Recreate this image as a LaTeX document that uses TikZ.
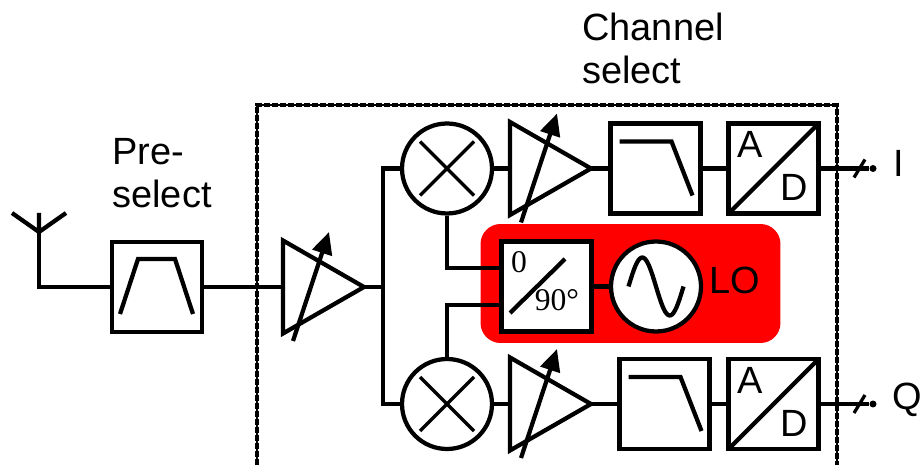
\documentclass[tikz,border=0pt]{standalone}
\usepackage{fontspec}
\setmainfont{Liberation Sans}
\newfontfamily\serifnum{Liberation Serif}
\usetikzlibrary{arrows.meta, positioning, shapes.geometric}

\tikzset{
	wire/.style={line width=0.085cm},
	block/.style={draw, wire, fill=white, rectangle, minimum size=1.8cm, inner sep=0pt},
	roundblock/.style={draw, wire, fill=white, circle, minimum size=1.8cm, inner sep=0pt},
	amp/.style={draw, wire, isosceles triangle, isosceles triangle stretches, minimum width=1.86cm, minimum height=1.62cm, inner sep=0pt, outer sep=0pt, anchor=west},
	caption/.style={font=\fontsize{21.6}{24.4}\selectfont, align=left, inner sep=0pt},
	bandpass/.pic={\draw [wire] (-37,27) -- (-19,-28) -- (18,-28) -- (36,27);},
	lowpass/.pic={\draw [wire] (-36,-27) -- (16,-27) -- (37,27);},
	gainarrow/.pic={\draw [wire, -{Triangle[length=0.44cm,width=0.4cm]}] (-30,54) -- (6,-55);},
	mixcross/.pic={\draw [line width=0.065cm] (-27,-27) -- (27,27) (-27,27) -- (27,-27);},
	adconv/.pic={
		\draw [wire] (-45,45) -- (45,-45);
		\node (-a) [caption] at (-23,-24) {A};
		\node (-d) [caption] at (21,19) {D};
	},
	busmark/.pic={\draw [line width=0.065cm] (-6,9) -- (5,-9);}
}

\begin{document}
\begin{tikzpicture}[x=0.02cm,y=-0.02cm,>=Stealth,line join=miter]
	\useasboundingbox (0,0) rectangle (922,465);

	% LO background
	\node (lobg) [fill=red, rounded corners=0.4cm, minimum width=6cm, minimum height=2.38cm, inner sep=0pt] at (630.5,283.5) {};

	% screen around the channel path
	\draw [line width=0.04cm] (256.5,465) -- (256.5,105) -- (836.5,105) -- (836.5,465);
	\draw [line width=0.08cm, dash pattern=on 0.12cm off 0.04cm] (256.5,465) -- (256.5,105) -- (836.5,105) -- (836.5,465);

	% antenna and pre-select
	\coordinate (anttop) at (39,213);
	\coordinate (antfoot) at (39,232);
	\coordinate (antl) at (12,213);
	\coordinate (antr) at (66,213);
	\node (presel) [block] at (157,287) {};
	\pic at (presel) {bandpass};
	\node (preseltxt) [caption] at (162,173) {Pre-\\select};
	\node (chantxt) [caption] at (653,48.5) {Channel\\select};

	\draw [wire] (antl) -- (antfoot) -- (antr) (anttop) -- (antfoot);
	\draw [wire] (antfoot) |- (presel.west);

	% first gain stage
	\node (vgain) [amp] at (283,287) {};
	\pic at (323,287) {gainarrow};
	\coordinate (fork) at (383,287);
	\draw [wire] (presel.east) -- (vgain.west);
	\draw [wire] (vgain.apex) -- (fork);

	% I branch
	\node (mixi) [roundblock] at (447,168.5) {};
	\pic at (mixi) {mixcross};
	\node (vgai) [amp] at (510,168.5) {};
	\pic at (551,168.5) {gainarrow};
	\node (lpfi) [block] at (655.5,168.5) {};
	\pic at (lpfi) {lowpass};
	\node (adci) [block] at (773.5,168.5) {};
	\pic (adcisym) at (adci) {adconv};
	\node (outi) [circle, fill, minimum size=0.14cm, inner sep=0pt] at (873,168.5) {};
	\pic at (860,168.5) {busmark};
	\node (labeli) [caption, right=0.32cm of outi, yshift=0.11cm] {I};

	% Q branch
	\node (mixq) [roundblock] at (447,404) {};
	\pic at (mixq) {mixcross};
	\node (vgaq) [amp] at (510,404) {};
	\pic at (551,404) {gainarrow};
	\node (lpfq) [block] at (664.5,404) {};
	\pic at (lpfq) {lowpass};
	\node (adcq) [block] at (773.5,404) {};
	\pic (adcqsym) at (adcq) {adconv};
	\node (outq) [circle, fill, minimum size=0.14cm, inner sep=0pt] at (873,404) {};
	\pic at (860,404) {busmark};
	\node (labelq) [caption, right=0.3cm of outq, yshift=0.09cm] {Q};

	% local oscillator
	\node (split) [block] at (546.5,286.5) {};
	\draw [wire] (510,313) -- (565,259);
	\node (splitzero) [font=\serifnum\fontsize{18}{18}\selectfont, inner sep=0pt] at (519,262) {0};
	\node (splitninety) [font=\serifnum\fontsize{18}{18}\selectfont, inner sep=0pt] at (557,300) {90\textdegree};
	\node (osc) [roundblock] at (656,286.5) {};
	\draw [wire] plot [domain=0:360, samples=40] ({656-27.5+\x/360*55},{286.5-29*sin(\x)});
	\node (lotxt) [caption] at (735,280) {LO};
	\coordinate (spliti) at (499,268);
	\coordinate (splitq) at (499,305);

	\path [wire, draw]
	(mixi.west) -| (fork)
	(mixq.west) -| (fork)
	(mixi.east) -- (vgai.west)
	(vgai.apex) -- (lpfi.west)
	(lpfi.east) -- (adci.west)
	(adci.east) -- (outi)
	(mixq.east) -- (vgaq.west)
	(vgaq.apex) -- (lpfq.west)
	(lpfq.east) -- (adcq.west)
	(adcq.east) -- (outq)
	(mixi.south) |- (spliti)
	(mixq.north) |- (splitq)
	(split.east) -- (osc.west);
\end{tikzpicture}
\end{document}
